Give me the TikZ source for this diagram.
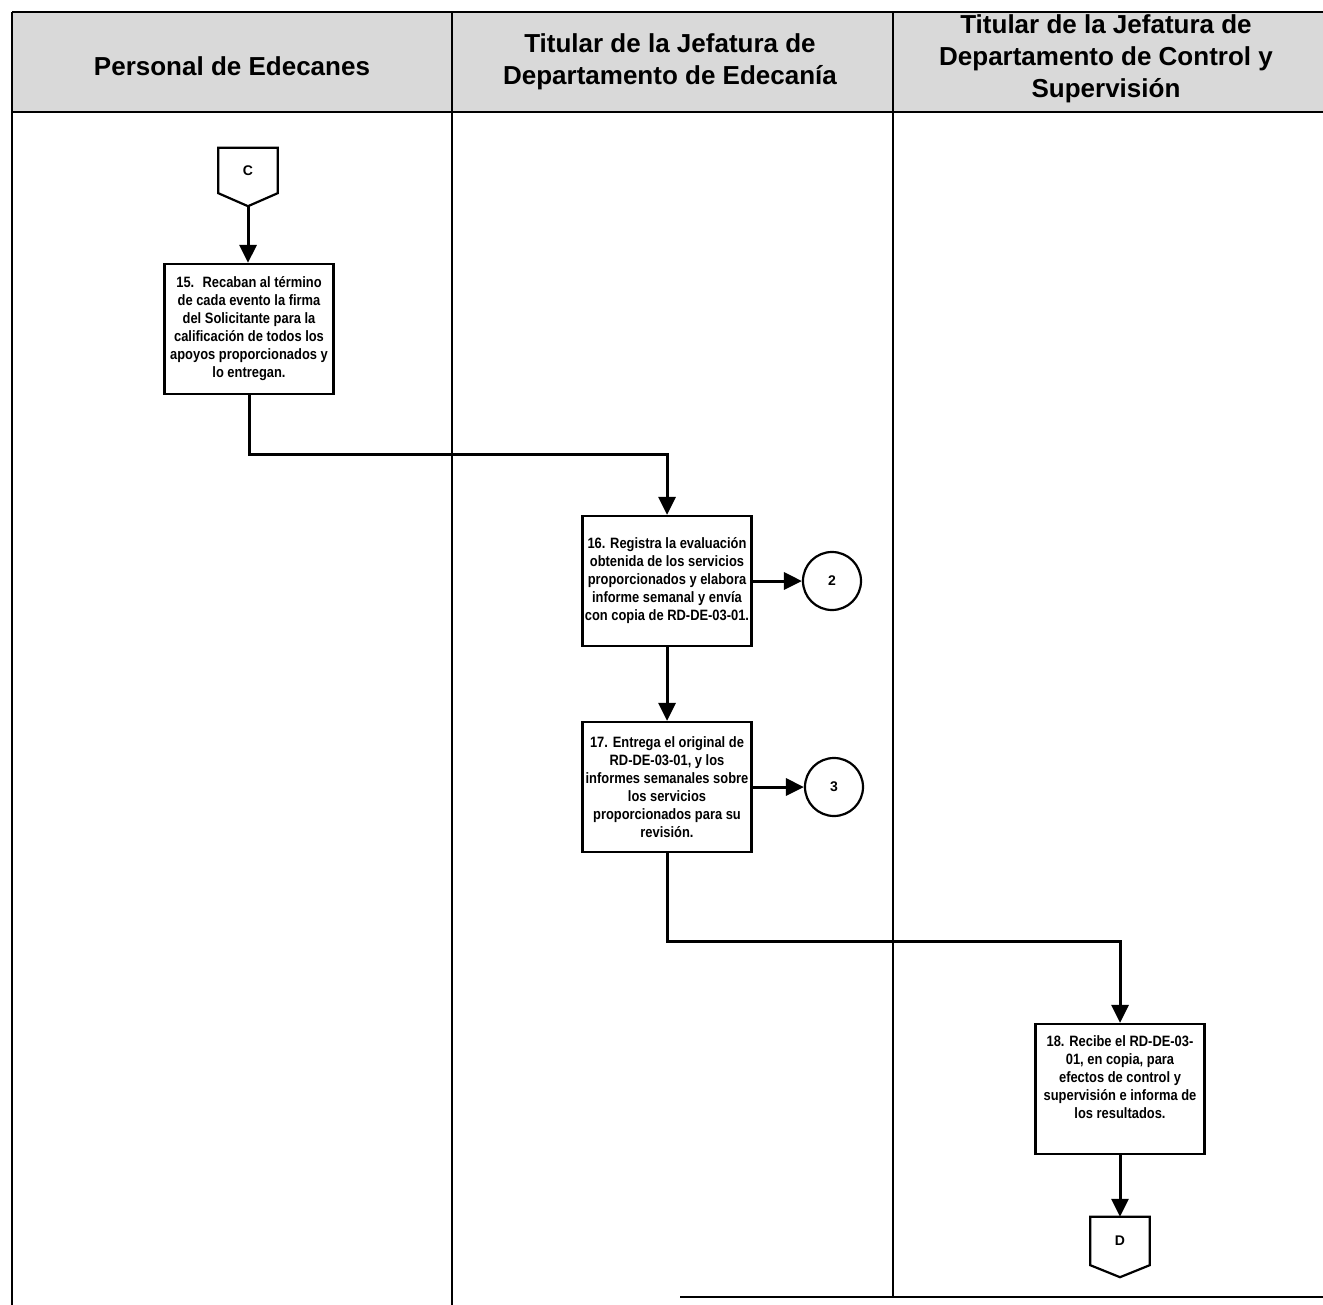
\documentclass[tikz,border=0pt]{standalone}
\usepackage{fontspec}
\setmainfont{Liberation Sans}
\newfontfamily\narrowf[FakeStretch=0.86]{Liberation Sans}
\usetikzlibrary{arrows.meta,calc}
\begin{document}
\begin{tikzpicture}[x=1pt,y=-1pt,
  lane/.style={line width=1.5pt},
  hdr/.style={font=\bfseries\fontsize{26}{32}\selectfont, align=center},
  stepbox/.style={draw, line width=2.2pt, minimum width=169pt, minimum height=130pt, inner sep=2pt, align=center, font=\narrowf\bfseries\fontsize{15}{18}\selectfont, fill=white},
  link/.style={line width=3pt},
  arr/.style={link, -{Triangle[length=18pt,width=17pt]}},
  circ/.style={draw, circle, line width=2.2pt, minimum size=58pt, inner sep=0pt, font=\bfseries\fontsize{14}{16}\selectfont},
  conn/.style={inner sep=0pt, font=\bfseries\fontsize{14}{16}\selectfont},
  connline/.style={line width=2.2pt, line join=miter}
]
\useasboundingbox (0,0) rectangle (1323,1305);
% header band
\fill[gray!30] (12,12) rectangle (1323,112);
\draw[lane] (12,12) -- (1323,12);
\draw[lane] (12,112) -- (1323,112);
\draw[lane] (12,12) -- (12,1305);
\draw[lane] (452,12) -- (452,1305);
\draw[lane] (893,12) -- (893,1297);
\draw[lane] (680,1297) -- (1323,1297);
% headers
\node[hdr] (h1) at (232,66) {Personal de Edecanes};
\node[hdr] (h2) at (670,62) {Titular de la Jefatura de\\Departamento de Edecanía};
\node[hdr] (h3) at (1106,59) {Titular de la Jefatura de\\Departamento de Control y\\Supervisión};
% connector C
\node[conn, minimum width=59pt, minimum height=45pt] (cC) at (248,170.5) {C};
\draw[connline] (cC.north west) -- (cC.north east) -- (cC.south east) -- ($(cC.south)+(0,13)$) -- (cC.south west) -- cycle;
\coordinate (ctip) at ($(cC.south)+(0,13)$);
% steps
\node[stepbox] (b15) at (249,329) {15.~ Recaban al término\\de cada evento la firma\\del Solicitante para la\\calificación de todos los\\apoyos proporcionados y\\lo entregan.};
\node[stepbox] (b16) at (667,581) {16. Registra la evaluación\\obtenida de los servicios\\proporcionados y elabora\\informe semanal y envía\\con copia de RD-DE-03-01.};
\node[stepbox] (b17) at (667,787) {17. Entrega el original de\\RD-DE-03-01, y los\\informes semanales sobre\\los servicios\\proporcionados para su\\revisión.};
\node[stepbox] (b18) at (1120,1089) {18. Recibe el RD-DE-03-\\01, en copia, para\\efectos de control y\\supervisión e informa de\\los resultados.\\\strut};
% off-page circles
\node[circ] (k2) at (832,581) {2};
\node[circ] (k3) at (834,787) {3};
% connector D
\node[conn, minimum width=59pt, minimum height=48pt] (dD) at (1120,1241) {D};
\draw[connline] (dD.north west) -- (dD.north east) -- (dD.south east) -- ($(dD.south)+(0,12)$) -- (dD.south west) -- cycle;
% connectors
\draw[arr] (ctip) -- (ctip |- b15.north);
\draw[arr] (b15.south) -- ++(0,59) -| (b16.north);
\draw[arr] (b16.east) -- (k2.west);
\draw[arr] (b16.south) -- (b17.north);
\draw[arr] (b17.east) -- (k3.west);
\draw[arr] (b17.south) -- ++(0,88) -| (b18.north);
\draw[arr] (b18.south) -- (dD.north);
\end{tikzpicture}
\end{document}
